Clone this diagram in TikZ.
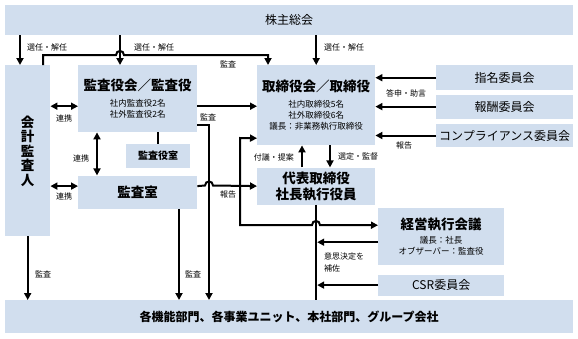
\documentclass[tikz,border=0pt]{standalone}
\usepackage{fontspec}
\setmainfont{Noto Sans CJK JP}
\usetikzlibrary{arrows.meta,positioning}
\definecolor{boxblue}{HTML}{D1DEEE}
\newcommand\bigtxt{\fontsize{13.5}{16}\selectfont\bfseries}
\newcommand\smalltxt{\fontsize{8.5}{11}\selectfont\mdseries}
\newcommand\midtxt{\fontsize{12}{14}\selectfont}
\begin{document}
\begin{tikzpicture}[
  x=1pt, y=-1pt,
  box/.style={fill=boxblue, anchor=north west, inner sep=0pt, align=center},
  lbl/.style={font=\fontsize{8}{12}\selectfont, inner sep=1pt, align=left},
  arr/.style={-{Triangle[length=7pt,width=7pt]}, line width=2pt},
  darr/.style={{Triangle[length=7pt,width=7pt]}-{Triangle[length=7pt,width=7pt]}, line width=2pt},
  ln/.style={line width=2pt}
]
\useasboundingbox (0,0) rectangle (578,338);
\node[box, minimum width=568pt, minimum height=30pt, font=\midtxt] (sh) at (5,5) {株主総会};
\node[box, minimum width=45pt, minimum height=171pt, font=\fontsize{13.5}{14.5}\selectfont\bfseries] (aud) at (5,65) {\\[-2pt]会\\計\\監\\査\\人};
\node[box, minimum width=119pt, minimum height=67pt, font=\smalltxt] (kan) at (78,65) {{\bigtxt 監査役会／監査役}\\[5pt]社内監査役2名\\社外監査役2名};
\node[box, minimum width=64pt, minimum height=24pt, font=\fontsize{10}{12}\selectfont\bfseries] (kroom) at (126,144) {監査役室};
\node[box, below=43pt of kan, minimum width=119pt, minimum height=33pt, font=\bigtxt] (ia) {監査室};
\node[box, minimum width=118pt, minimum height=80pt, font=\smalltxt] (bod) at (257,65) {{\bigtxt 取締役会／取締役}\\[5pt]社内取締役5名\\社外取締役6名\\議長：非業務執行取締役};
\node[box, minimum width=137pt, minimum height=25pt, font=\midtxt] (nom) at (436,65) {指名委員会};
\node[box, below=4pt of nom, minimum width=137pt, minimum height=24pt, font=\midtxt] (rem) {報酬委員会};
\node[box, below=5pt of rem, minimum width=137pt, minimum height=23pt, font=\midtxt] (comp) {コンプライアンス委員会};
\node[box, below=22pt of bod, minimum width=118pt, minimum height=37pt, font=\bigtxt] (ceo) {代表取締役\\社長執行役員};
\node[box, minimum width=126pt, minimum height=57pt, font=\smalltxt] (exe) at (378,208) {{\bigtxt 経営執行会議}\\[3pt]議長：社長\\オブザーバー：監査役};
\node[box, below=9pt of exe, minimum width=126pt, minimum height=21pt, font=\midtxt] (csr) {CSR委員会};
\node[box, minimum width=568pt, minimum height=33pt, font=\midtxt\bfseries] (div) at (5,300) {各機能部門、各事業ユニット、本社部門、グループ会社};

\draw[arr] ([xshift=15pt]aud.north west |- sh.south) -- ([xshift=15pt]aud.north west);
\draw[arr] ([xshift=42pt]kan.north west |- sh.south) -- ([xshift=42pt]kan.north west);
\draw[arr] (bod.north |- sh.south) -- (bod.north);
\draw[arr] ([xshift=38pt]aud.north west) |- (116,55) .. controls (116,49.67) and (124,49.67) .. (124,55) -- (268,55) -- ([xshift=11pt]bod.north west);
\draw[darr] ([yshift=-7.5pt]aud.east |- kan.west) -- ([yshift=-7.5pt]kan.west);
\draw[darr] ([xshift=19pt]kan.south west) -- ([xshift=19pt]ia.north west);
\draw[ln] (kroom.north |- kan.south) -- (kroom.north);
\draw[darr] ([yshift=6pt]aud.east |- ia.west) -- ([yshift=6pt]ia.west);
\draw[arr] ([yshift=-7.5pt]kan.east) -- ([yshift=-7.5pt]kan.east -| bod.west);
\draw[arr] ([yshift=-26.5pt]kan.east) -| ([xshift=204pt]div.north west);
\draw[arr] ([yshift=6pt]ia.east) -- (205,185.5) .. controls (205,180.17) and (213,180.17) .. (213,185.5) -- (ceo.west);
\draw[arr] ([xshift=101pt]ia.south west) -- ([xshift=101pt]ia.south west |- div.north);
\draw[arr] (aud.south) -- (aud.south |- div.north);
\draw[arr] (nom.west) -- (nom.west -| bod.east);
\draw[arr] (rem.west) -- (rem.west -| bod.east);
\draw[arr] (comp.west) -- (comp.west -| bod.east);
\draw[arr] ([xshift=73pt]bod.south west) -- ([xshift=73pt]bod.south west |- ceo.north);
\draw[arr] ([xshift=45pt]ceo.north west) -- ([xshift=45pt]ceo.north west |- bod.south);
\draw[ln] (ceo.south) -- (ceo.south |- div.north);
\draw[darr] ([yshift=-33pt]bod.west) -- (240,138) |- (312,225) .. controls (312,219.67) and (320,219.67) .. (320,225) -- ([yshift=11.5pt]exe.west);
\draw[arr, shorten >=1pt] ([yshift=-5.5pt]exe.west) -- ([yshift=-5.5pt]exe.west -| ceo.south);
\draw[arr, shorten >=1pt] (csr.west) -- (csr.west -| ceo.south);

\node[lbl, anchor=west] (selaud) at (26,47) {選任・解任};
\node[lbl, anchor=west] (selkan) at (133,47) {選任・解任};
\node[lbl, anchor=west] (selbod) at (323,47) {選任・解任};
\node[lbl] (audbod) at (228,64) {監査};
\node[lbl] (coop1) at (64,118) {連携};
\node[lbl] (coop2) at (81,158) {連携};
\node[lbl] (coop3) at (64,196) {連携};
\node[lbl] (kanbod) at (208,117) {監査};
\node[lbl] (iaceo) at (228,194) {報告};
\node[lbl] (auddiv) at (43,274) {監査};
\node[lbl] (iadiv) at (193,274) {監査};
\node[lbl] (advice) at (406,93) {答申・助言};
\node[lbl] (compbod) at (404,145) {報告};
\node[lbl, anchor=west] (appoint) at (337,156) {選定・監督};
\node[lbl, anchor=east] (propose) at (295,157) {付議・提案};
\node[lbl, anchor=north west] (support) at (323,252) {意思決定を\\補佐};
\end{tikzpicture}
\end{document}
